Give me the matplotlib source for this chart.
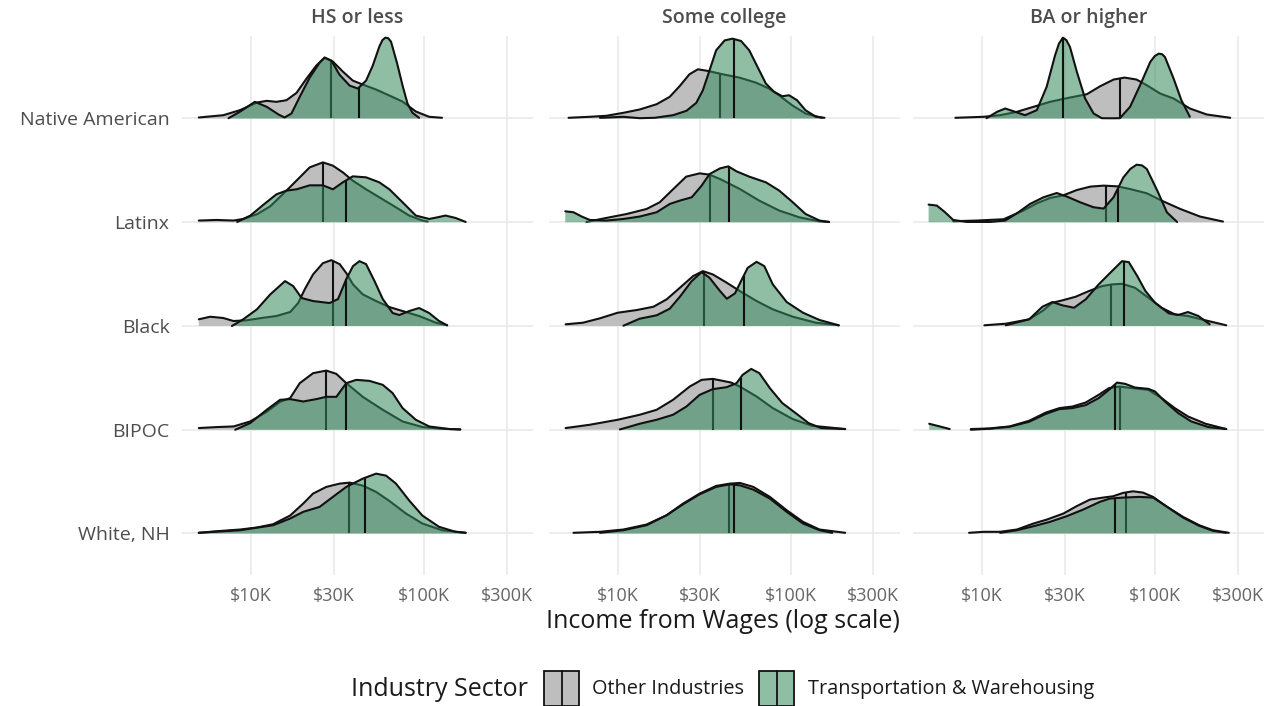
import numpy as np
import matplotlib
matplotlib.use("Agg")
import matplotlib.pyplot as plt
from matplotlib.patches import Rectangle
from matplotlib.lines import Line2D

plt.rcParams["font.family"] = ["Open Sans", "DejaVu Sans"]

GROUPS = ["Native American", "Latinx", "Black", "BIPOC", "White, NH"]
EDUCATION = ["HS or less", "Some college", "BA or higher"]
SECTORS = ["Other Industries", "Transportation & Warehousing"]

X_TICKS = [10, 30, 100, 300]  # $K
X_TICK_LABELS = ["$10K", "$30K", "$100K", "$300K"]

# ridge outlines: (income in $K, density height); None marks a gap in the ridge
HS_NATIVE_OTHER = [(4.98, 1.0), (6.9, 3.3), (8.6, 8.3), (10.8, 16), (12.3, 17.7), (14.0, 16.7),
                   (16.0, 18.3), (18.3, 25.7), (20.9, 40), (23.8, 53), (26.6, 61), (29.7, 57),
                   (33.9, 47), (38.7, 38), (44.2, 34), (52.8, 29), (63, 23), (75, 17), (89.6, 7),
                   (107, 1.7), (127, 0.7)]
HS_NATIVE_TRANS = [(7.4, 0.3), (8.6, 6.7), (10.5, 16.7), (12.3, 11.7), (14.4, 4), (15.6, 1),
                   (17.1, 5), (19.1, 21.7), (21.8, 41), (24.9, 56), (26.6, 61), (29.1, 58),
                   (32.4, 44), (37.1, 33), (41.4, 30), (46.2, 38), (50.5, 53), (55.1, 72),
                   (57.4, 78.5), (59.7, 81), (62.0, 80.5), (64.4, 77), (69.9, 55), (75.1, 33),
                   (80.2, 15), (85.7, 5.7), (93.6, 0.7)]
HS_LATINX_OTHER = [(4.98, 1.7), (6.3, 2.3), (7.9, 1.7), (9.0, 3.3), (10.8, 8), (12.9, 16),
                   (16.0, 31.7), (19.1, 45), (21.8, 55), (26.0, 60), (29.7, 56.7), (33.9, 50),
                   (38.7, 41.7), (46.2, 33), (55.1, 25), (68.7, 15), (82, 6.7), (97.8, 1.7),
                   (105, 0.7)]
HS_LATINX_TRANS = [(8.3, 0.3), (9.9, 6.7), (11.8, 17.7), (14.0, 28), (16.0, 31.7), (18.3, 33),
                   (21.8, 37), (26.0, 37), (29.7, 33), (33.9, 40), (38.7, 46), (46.2, 45),
                   (55.1, 40), (63, 33), (75.1, 20), (89.6, 6.7), (107, 3.3), (120, 5.0),
                   (133, 6.7), (152, 4.3), (174, 0.3)]
HS_BLACK_OTHER = [(4.98, 6.7), (5.8, 9.3), (6.9, 8), (7.9, 5), (9.4, 5.7), (11.8, 8.3), (14.0, 10),
                  (16.8, 14), (18.7, 23), (20.4, 36.7), (22.8, 51.7), (26.0, 63), (29.1, 66),
                  (32.5, 62), (35.5, 53), (38.8, 41.7), (44.2, 31.7), (52.8, 25), (62.9, 19),
                  (75.1, 15), (93.6, 10), (117, 3.3), (136, 0.7)]
HS_BLACK_TRANS = [(7.74, 0), (9.0, 6.7), (10.8, 16.7), (12.9, 31.7), (15.7, 45), (17.5, 40),
                  (19.6, 28), (22.8, 25), (28.4, 23), (31.8, 27), (35.5, 47), (38.8, 60),
                  (42.3, 65), (46.2, 62), (51.7, 45), (57.7, 27), (65.8, 13), (71.9, 11),
                  (82.1, 15), (93.6, 18), (107, 13), (122, 5), (136, 0.7)]
HS_BIPOC_OTHER = [(4.98, 1.7), (6.35, 2.7), (7.91, 3.3), (9.87, 8.3), (12.3, 18), (14.7, 28),
                  (16.8, 31.7), (19.1, 46.7), (22.8, 56.7), (27.2, 59.3), (31.1, 56), (35.5, 46.7),
                  (44.2, 33), (57.7, 20), (75.1, 8.3), (97.8, 2.7), (127, 1), (162, 0.3)]
HS_BIPOC_TRANS = [(8.09, 0), (9.87, 6.7), (12.3, 20), (14.7, 30), (16.8, 30.7), (20.0, 28.3),
                  (23.8, 30.7), (27.2, 33), (31.1, 33), (35.5, 46.7), (40.5, 50), (48.3, 49),
                  (57.7, 45), (65.8, 36.7), (75.1, 21.7), (89.6, 10), (107, 3.3), (140, 0.7),
                  (162, 0.3)]
HS_WHITE_OTHER = [(4.98, 0.7), (6.35, 2.3), (8.65, 4), (10.8, 6), (13.4, 9.3), (16.8, 18),
                  (20.0, 30), (22.8, 40), (27.2, 46.7), (32.5, 50), (37.1, 51), (44.2, 48),
                  (52.8, 41.7), (62.9, 32.7), (78.6, 20), (97.8, 10), (127, 3.3), (174, 0.7)]
HS_WHITE_TRANS = [(4.98, 0.7), (8.65, 3.3), (13.4, 8.3), (16.8, 15), (20.0, 21.7), (24.9, 26.7),
                  (29.7, 36.7), (35.5, 46.7), (44.2, 55), (52.8, 60), (60.3, 58), (68.8, 50),
                  (82.1, 33), (97.8, 18), (122, 6.7), (152, 1.7), (174, 0.7)]

SC_NATIVE_OTHER = [(5.2, 0.7), (6.9, 1.7), (8.6, 2.7), (10.8, 5.7), (13.4, 9), (16.8, 14.3),
                   (20.0, 21.7), (22.8, 32.3), (26.0, 44.3), (29.1, 49.3), (33.2, 47.7),
                   (40.5, 44.3), (50.5, 41), (62.9, 36), (75.1, 30), (85.7, 23.3), (102, 13.3),
                   (122, 5), (152, 0.7)]
SC_NATIVE_TRANS = [(7.9, 0.7), (10.8, 1.7), (13.4, 0.3), (16.4, 0.7), (20.9, 3.3), (25.0, 7.7),
                   (28.5, 15.7), (31.1, 28.3), (34.0, 48.3), (37.1, 68.3), (41.6, 78.3),
                   (46.2, 80), (51.7, 77.7), (57.7, 68.3), (64.4, 51.7), (72.0, 35), (80.3, 26.7),
                   (89.6, 22.3), (98, 23.3), (109, 18.3), (122, 8.3), (140, 1.7), (157, 0.7)]
SC_LATINX_OTHER = [(6.6, 0.3), (8.6, 4.3), (11.3, 8.3), (14.7, 13.3), (17.5, 20), (20.9, 33),
                   (24.9, 45.7), (29.8, 49), (34.0, 47.7), (39.1, 43.3), (50.9, 33.3), (65.8, 21.7),
                   (86, 11.7), (112, 5), (145, 1), (167, 0.3)]
SC_LATINX_TRANS = [(4.98, 11), (5.55, 10), (6.2, 5.7), (6.9, 2.3), (8.6, 1.7), (10.8, 3.3),
                   (13.4, 5.7), (16.8, 10), (20.0, 18.3), (22.9, 21.7), (26.8, 25), (30.6, 36.7),
                   (34.0, 48.3), (39.1, 54), (43.7, 56), (48.7, 51), (57.7, 45.7), (72.0, 40),
                   (86, 31.7), (103, 20), (122, 8.3), (147, 1.7), (167, 0.3)]
SC_BLACK_OTHER = [(5.0, 1.7), (6.3, 3.3), (7.9, 7.7), (10.0, 13.3), (12.9, 16), (16.1, 19.3),
                  (19.2, 26.7), (22.9, 38.3), (27.3, 50), (31.1, 55), (35.5, 51.7), (42.8, 43.3),
                  (50.9, 35), (63.6, 25), (78.9, 16.7), (103, 9.3), (140, 3.3), (190, 0.7)]
SC_BLACK_TRANS = [(10.8, 0.3), (13.4, 7.3), (16.8, 10.7), (20.0, 17.3), (22.9, 29.3), (26.8, 45),
                  (30.6, 54), (34.0, 48.3), (39.1, 35), (42.8, 27.3), (47.7, 32.7), (51.7, 45),
                  (56.5, 58.3), (63.6, 64.3), (70.5, 60), (78.9, 41.7), (95, 24), (118, 13.3),
                  (147, 6), (190, 0.7)]
SC_BIPOC_OTHER = [(5.0, 1.7), (6.9, 5), (10.0, 10), (13.4, 15), (16.8, 20), (20.9, 30),
                  (26.1, 43.3), (30.6, 50), (35.5, 51), (39.7, 49.3), (45.3, 47.3), (50.9, 43.3),
                  (63.6, 33.3), (78.9, 21.7), (103, 10.7), (133, 4), (207, 0.7)]
SC_BIPOC_TRANS = [(10.3, 0.3), (13.4, 6), (16.8, 10), (20.9, 15), (25.0, 23.3), (29.8, 35),
                  (35.5, 40.7), (42.8, 42.7), (48.7, 46.7), (52.8, 55), (59.2, 61), (66, 56.7),
                  (75.9, 41.7), (89.6, 26.7), (107, 16.7), (127, 6.7), (150, 1.7), (207, 0.7)]
SC_WHITE_OTHER = [(5.55, 0.7), (7.9, 1.7), (10.8, 4), (14.7, 9), (19.2, 18.3), (23.9, 30),
                  (29.8, 40), (37.1, 47.7), (44.6, 50), (50.9, 50.7), (60.9, 46.7), (75.9, 36.7),
                  (95, 23.3), (118, 11.7), (147, 4), (207, 0.7)]
SC_WHITE_TRANS = [(7.9, 0.7), (10.8, 3.3), (14.7, 8.3), (19.2, 18.3), (23.9, 29.3), (29.8, 39.3),
                  (37.1, 46.7), (44.6, 49.3), (50.9, 48.3), (60.9, 44), (75.9, 35), (95, 21.7),
                  (118, 10), (147, 3.3), (174, 0.7)]

BA_NATIVE_OTHER = [(7.0, 0.7), (10.2, 1.7), (12.7, 3.3), (15.9, 6.7), (19.8, 11.7), (24.7, 16.7),
                   (32.2, 21), (40.3, 24.3), (48.1, 32.3), (57.5, 39), (66.6, 41), (78.2, 39),
                   (89.6, 33.3), (107, 25), (128, 20), (159, 10), (199, 4), (272, 0.7)]
BA_NATIVE_TRANS = [(10.6, 0.3), (12.2, 6.7), (13.6, 10), (15.5, 6.7), (17.7, 3.3), (20.7, 8.3),
                   (23.6, 31.7), (26.4, 63.3), (27.8, 75), (29.3, 81), (30.7, 78.5), (32.2, 71.7),
                   (35.3, 46.7), (39.4, 20), (44.1, 5), (49.2, 0.3), (56, 0.2), (62.6, 0.3),
                   (71.7, 11.7), (81.9, 33.3), (93.8, 56.7), (99.5, 62.5), (105, 65),
                   (109.5, 64.5), (114, 61.7), (128, 40), (142, 18.3), (159, 1.7)]
BA_LATINX_OTHER = [(6.8, 1), (9.3, 1.7), (13.3, 3), (17.3, 11.7), (20.7, 19), (24.7, 24.3),
                   (29.5, 27), (35.3, 32.3), (42.2, 35.7), (50.4, 36.7), (60.2, 36), (71.7, 33.3),
                   (89.6, 29), (109, 21.7), (140, 13.3), (182, 5.7), (247, 0.7)]
BA_LATINX_TRANS = [(4.9, 17.7), (5.47, 16.7), (6.1, 10), (6.8, 2.3), (8.15, 0.3), (11.1, 0.3),
                   (13.6, 1.7), (15.9, 9), (18.9, 18.3), (22.6, 25), (27.0, 29.3), (30.9, 25.7),
                   (36.9, 20), (44.1, 15), (50.4, 13.7), (57.5, 25), (65.6, 45), (72.0, 53.5),
                   (78.2, 57.7), (84.0, 57), (89.6, 53.3), (103, 31.7), (117, 10), (134, 0.3)]
BA_BLACK_OTHER = [(10.3, 0.7), (13.7, 2.3), (18.7, 6.7), (22.3, 15), (25.5, 23.3), (29.1, 25.7),
                  (34.7, 29.3), (41.4, 35), (49.4, 40), (56.3, 41.7), (64.4, 42.3), (76.6, 38.3),
                  (91.5, 28.3), (109, 18.3), (130, 11.7), (155, 10), (185, 6.7), (258, 0.7)]
BA_BLACK_TRANS = [(13.7, 0.7), (18.7, 6.7), (22.3, 19.3), (25.5, 24), (29.1, 20.7), (34.0, 18.3),
                  (39.7, 26.7), (47.2, 41.7), (56.3, 55), (64.4, 65), (70.5, 64), (78.9, 50),
                  (88.0, 35), (100, 23.3), (120, 12.7), (136, 11), (155, 14), (178, 10),
                  (207, 1.7)]
BA_BIPOC_OTHER = [(8.6, 0.7), (11.0, 1.3), (14.4, 3.3), (18.7, 9), (23.4, 17.3), (28.0, 21.7),
                  (33.3, 23.3), (39.7, 27.3), (47.2, 35), (54.1, 41.7), (62.2, 43.3), (74.0, 41.7),
                  (91.5, 40), (109, 31.7), (130, 21.7), (155, 13.3), (196, 6), (258, 0.7)]
BA_BIPOC_TRANS = [(4.94, 6), (5.69, 3.3), (6.49, 0.7), (7.5, None), (8.6, 0), (11.0, 1),
                  (14.4, 3), (18.7, 8), (23.4, 16), (28.0, 20.7), (33.2, 21.7), (39.7, 24.7),
                  (47.2, 31.7), (54.1, 40), (60.3, 47.3), (67.2, 46), (76.6, 42.3), (91.5, 41),
                  (100, 38.3), (114, 28.3), (136, 16.7), (162, 8.3), (203, 2.7), (258, 0.7)]
BA_WHITE_OTHER = [(8.4, 0.7), (10.2, 1.7), (12.7, 1.7), (15.9, 4), (19.8, 10), (23.7, 14),
                  (29.5, 20), (35.1, 27.3), (42.0, 34), (50.0, 36), (57.1, 37.3), (65.3, 40.7),
                  (74.5, 42.3), (85.1, 41), (97.3, 36.7), (116, 27.3), (145, 16.7), (180, 8.3),
                  (216, 3.3), (267, 0.7)]
BA_WHITE_TRANS = [(12.7, 0.7), (15.9, 3.3), (19.8, 7.3), (24.7, 11.7), (30.8, 17.3), (38.4, 24),
                  (47.9, 31.7), (54.7, 35), (65.3, 36), (81.3, 36.7), (97.3, 36), (116, 27.3),
                  (145, 16), (180, 7.7), (216, 2.7), (257, 0.7)]

# median income ($K) per group, in GROUPS order
HS_MEDIAN_OTHER = [29.1, 26.0, 29.7, 27.2, 36.7]
HS_MEDIAN_TRANS = [42.3, 35.5, 35.5, 35.5, 45.6]
SC_MEDIAN_OTHER = [39.1, 34.0, 31.7, 35.8, 44.2]
SC_MEDIAN_TRANS = [46.8, 43.9, 54.0, 51.4, 46.9]
BA_MEDIAN_OTHER = [62.6, 52.0, 55.7, 62.9, 67.6]
BA_MEDIAN_TRANS = [29.3, 60.9, 65.8, 58.9, 58.4]

PANELS = {
    "HS or less": ([HS_NATIVE_OTHER, HS_LATINX_OTHER, HS_BLACK_OTHER, HS_BIPOC_OTHER, HS_WHITE_OTHER],
                   [HS_NATIVE_TRANS, HS_LATINX_TRANS, HS_BLACK_TRANS, HS_BIPOC_TRANS, HS_WHITE_TRANS],
                   HS_MEDIAN_OTHER, HS_MEDIAN_TRANS),
    "Some college": ([SC_NATIVE_OTHER, SC_LATINX_OTHER, SC_BLACK_OTHER, SC_BIPOC_OTHER, SC_WHITE_OTHER],
                     [SC_NATIVE_TRANS, SC_LATINX_TRANS, SC_BLACK_TRANS, SC_BIPOC_TRANS, SC_WHITE_TRANS],
                     SC_MEDIAN_OTHER, SC_MEDIAN_TRANS),
    "BA or higher": ([BA_NATIVE_OTHER, BA_LATINX_OTHER, BA_BLACK_OTHER, BA_BIPOC_OTHER, BA_WHITE_OTHER],
                     [BA_NATIVE_TRANS, BA_LATINX_TRANS, BA_BLACK_TRANS, BA_BIPOC_TRANS, BA_WHITE_TRANS],
                     BA_MEDIAN_OTHER, BA_MEDIAN_TRANS),
}

RIDGE_SCALE = 1 / 104.0   # density units -> row spacing
GREY = "#bebebe"
GREEN = "#338a5c"
GREEN_ALPHA = 0.55
LINE = "#111111"
GRID = "#e8e8e8"
LW = 1.5


def draw_ridge(ax, curve, median, base, fill, alpha, z):
    xs = np.array([p[0] for p in curve], dtype=float)
    hs = np.array([np.nan if p[1] is None else p[1] for p in curve], dtype=float)
    gaps = np.flatnonzero(np.isnan(hs))
    for seg in np.split(np.arange(len(xs)), gaps):
        seg = seg[~np.isnan(hs[seg])]
        if len(seg) < 2:
            continue
        top = base + hs[seg] * RIDGE_SCALE
        ax.fill_between(xs[seg], base, top, facecolor=fill, alpha=alpha, lw=0, zorder=z)
        ax.plot(xs[seg], top, color=LINE, lw=LW, zorder=z + 0.1, solid_joinstyle="round",
                solid_capstyle="round")
    ok = ~np.isnan(hs)
    mh = np.interp(np.log10(median), np.log10(xs[ok]), hs[ok])
    ax.plot([median, median], [base, base + mh * RIDGE_SCALE], color=LINE, lw=LW,
            zorder=z + 0.2, solid_capstyle="butt")


W, H = 1276, 706
fig = plt.figure(figsize=(W / 100, H / 100), dpi=100)

panel_left = [182, 548.5, 913]
panel_w = 351
panel_top, panel_bottom = 36, 575

n = len(GROUPS)
for i, edu in enumerate(EDUCATION):
    ax = fig.add_axes([panel_left[i] / W, 1 - panel_bottom / H, panel_w / W,
                       (panel_bottom - panel_top) / H])
    others, trans, med_o, med_t = PANELS[edu]
    ax.set_xscale("log")
    ax.set_xlim(10 ** 0.60, 10 ** 2.63)
    ax.set_ylim(0.6, 5.795)

    for t in X_TICKS:
        ax.axvline(t, color=GRID, lw=1.1, zorder=0)
    for r in range(n):
        ax.axhline(n - r, color=GRID, lw=1.1, zorder=0)

    # upper rows first so lower ridges sit in front
    for r in range(n):
        base = n - r
        z = 2 + r * 3
        draw_ridge(ax, others[r], med_o[r], base, GREY, 1.0, z)
        draw_ridge(ax, trans[r], med_t[r], base, GREEN, GREEN_ALPHA, z + 1.5)

    for s in ax.spines.values():
        s.set_visible(False)
    ax.set_xticks(X_TICKS)
    ax.set_xticklabels(X_TICK_LABELS)
    ax.xaxis.set_minor_locator(matplotlib.ticker.NullLocator())
    ax.tick_params(axis="x", length=0, pad=9, labelsize=13, labelcolor="#666666")
    ax.set_yticks(range(n, 0, -1))
    if i == 0:
        ax.set_yticklabels(GROUPS)
        ax.tick_params(axis="y", length=0, pad=9, labelsize=14, labelcolor="#4d4d4d")
    else:
        ax.set_yticklabels([])
        ax.tick_params(axis="y", length=0)
    ax.text(0.5, 1 + 18 / (panel_bottom - panel_top), edu, transform=ax.transAxes,
            ha="center", va="center", fontsize=14, fontweight="semibold", color="#4d4d4d")

fig.text(723 / W, 1 - 622 / H, "Income from Wages (log scale)", ha="center", va="center",
         fontsize=18, color="#1a1a1a")

# legend
ly = 1 - 689 / H
fig.text(528 / W, ly, "Industry Sector", ha="right", va="center", fontsize=18, color="#1a1a1a")
for (x0, x1), fill, alpha, label, tx in [((544, 579), GREY, 1.0, SECTORS[0], 592),
                                          ((759, 794), GREEN, GREEN_ALPHA, SECTORS[1], 808)]:
    y0, bh = 1 - 706 / H, 35 / H
    fig.add_artist(Rectangle((x0 / W, y0), (x1 - x0) / W, bh, transform=fig.transFigure,
                             facecolor=fill, alpha=alpha, edgecolor="none"))
    fig.add_artist(Rectangle((x0 / W, y0), (x1 - x0) / W, bh, transform=fig.transFigure,
                             facecolor="none", edgecolor=LINE, lw=1.3))
    xm = (x0 + x1) / 2 / W
    fig.add_artist(Line2D([xm, xm], [y0, y0 + bh], transform=fig.transFigure,
                          color=LINE, lw=1.3))
    fig.text(tx / W, ly, label, ha="left", va="center", fontsize=14.3, color="#1a1a1a")

fig.savefig("out.png", dpi=100, facecolor="white")
